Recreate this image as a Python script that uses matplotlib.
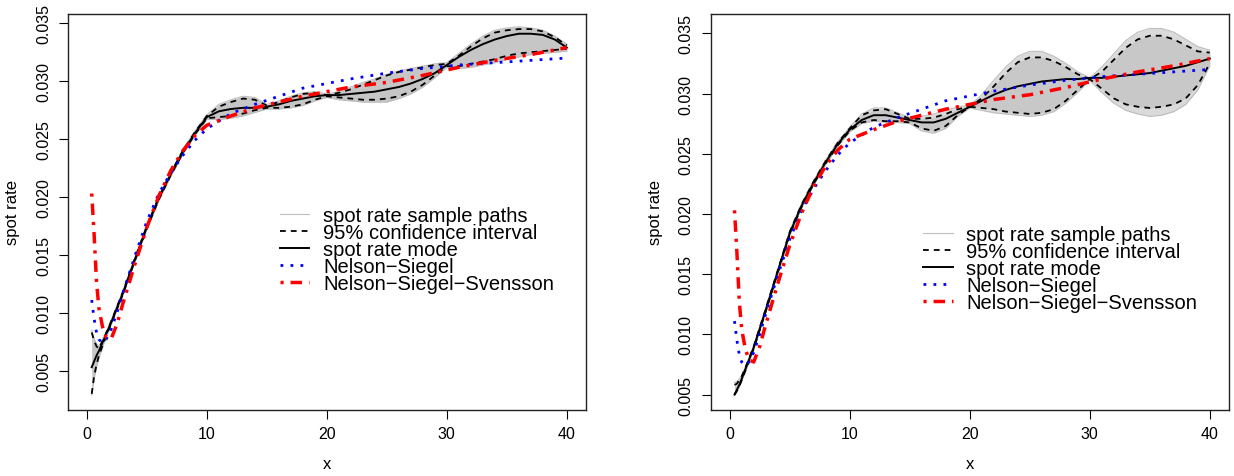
import matplotlib.pyplot as plt

plt.rcParams['font.family'] = ['Liberation Sans', 'DejaVu Sans']

# maturity grid for the sampled curves (mode, CI, path envelopes)
x = [0.4, 0.6, 0.8, 1, 1.5, 2, 3, 4, 5, 6, 7, 8, 9, 10, 11, 12, 13, 14, 15, 16,
     17, 18, 19, 20, 21, 22, 23, 24, 25, 26, 27, 28, 29, 30, 31, 32, 33, 34, 35,
     36, 37, 38, 39, 40]

# left panel
mode_l = [0.0053, 0.0058, 0.0063, 0.0067, 0.0079, 0.0091, 0.0117, 0.0146, 0.0174, 0.0199,
          0.0220, 0.0239, 0.0255, 0.0269, 0.0274, 0.0276, 0.0277, 0.0277, 0.0278, 0.0280,
          0.0283, 0.0285, 0.0287, 0.0288, 0.0288, 0.0289, 0.0290, 0.0291, 0.0293, 0.0295,
          0.0298, 0.0302, 0.0307, 0.0314, 0.0321, 0.0327, 0.0332, 0.0336, 0.0339, 0.0341,
          0.0341, 0.0340, 0.0336, 0.0329]
ci_hi_l = [0.0083, 0.0076, 0.0071, 0.0069, 0.0080, 0.0092, 0.0118, 0.0147, 0.0175, 0.0200,
           0.0221, 0.0240, 0.0256, 0.0270, 0.0278, 0.0282, 0.0285, 0.0284, 0.0279, 0.0282,
           0.0286, 0.0289, 0.0290, 0.0288, 0.0290, 0.0293, 0.0297, 0.0301, 0.0305, 0.0308,
           0.0310, 0.0312, 0.0314, 0.0315, 0.0322, 0.0330, 0.0337, 0.0342, 0.0344, 0.0345,
           0.0345, 0.0343, 0.0338, 0.0331]
ci_lo_l = [0.0030, 0.0045, 0.0055, 0.0063, 0.0077, 0.0090, 0.0116, 0.0145, 0.0173, 0.0198,
           0.0219, 0.0238, 0.0254, 0.0268, 0.0269, 0.0270, 0.0272, 0.0275, 0.0277, 0.0277,
           0.0278, 0.0280, 0.0284, 0.0287, 0.0286, 0.0285, 0.0284, 0.0284, 0.0285, 0.0287,
           0.0291, 0.0297, 0.0305, 0.0313, 0.0313, 0.0315, 0.0317, 0.0319, 0.0322, 0.0324,
           0.0325, 0.0326, 0.0327, 0.0328]
path_hi_l = [0.0085, 0.0078, 0.0073, 0.0071, 0.0081, 0.0093, 0.0119, 0.0148, 0.0176, 0.0201,
             0.0222, 0.0241, 0.0257, 0.0271, 0.0280, 0.0284, 0.0287, 0.0286, 0.0280, 0.0283,
             0.0287, 0.0290, 0.0291, 0.0289, 0.0291, 0.0295, 0.0299, 0.0302, 0.0306, 0.0309,
             0.0311, 0.0313, 0.0315, 0.0316, 0.0324, 0.0332, 0.0339, 0.0344, 0.0346, 0.0347,
             0.0346, 0.0344, 0.0339, 0.0332]
path_lo_l = [0.0029, 0.0043, 0.0053, 0.0061, 0.0076, 0.0089, 0.0115, 0.0144, 0.0172, 0.0197,
             0.0218, 0.0237, 0.0253, 0.0267, 0.0267, 0.0268, 0.0270, 0.0273, 0.0276, 0.0276,
             0.0277, 0.0279, 0.0283, 0.0286, 0.0284, 0.0283, 0.0282, 0.0282, 0.0282, 0.0285,
             0.0289, 0.0295, 0.0303, 0.0312, 0.0311, 0.0312, 0.0314, 0.0316, 0.0319, 0.0321,
             0.0323, 0.0324, 0.0325, 0.0326]

# right panel
mode_r = [0.0050, 0.0054, 0.0058, 0.0063, 0.0076, 0.0089, 0.0120, 0.0152, 0.0184, 0.0207,
          0.0226, 0.0243, 0.0258, 0.0270, 0.0278, 0.0282, 0.0282, 0.0280, 0.0278, 0.0276,
          0.0276, 0.0279, 0.0284, 0.0289, 0.0294, 0.0299, 0.0303, 0.0306, 0.0308, 0.0310,
          0.0311, 0.0312, 0.0312, 0.0313, 0.0313, 0.0314, 0.0315, 0.0316, 0.0317, 0.0319,
          0.0321, 0.0323, 0.0326, 0.0329]
ci_hi_r = [0.0058, 0.0059, 0.0062, 0.0065, 0.0077, 0.0090, 0.0121, 0.0153, 0.0185, 0.0208,
           0.0227, 0.0244, 0.0259, 0.0271, 0.0282, 0.0286, 0.0287, 0.0283, 0.0279, 0.0279,
           0.0280, 0.0283, 0.0287, 0.0289, 0.0296, 0.0306, 0.0317, 0.0326, 0.0330, 0.0330,
           0.0327, 0.0322, 0.0316, 0.0312, 0.0318, 0.0328, 0.0338, 0.0345, 0.0348, 0.0348,
           0.0345, 0.0340, 0.0335, 0.0334]
ci_lo_r = [0.0050, 0.0053, 0.0057, 0.0062, 0.0075, 0.0088, 0.0119, 0.0151, 0.0183, 0.0206,
           0.0225, 0.0242, 0.0257, 0.0269, 0.0276, 0.0278, 0.0277, 0.0277, 0.0276, 0.0271,
           0.0269, 0.0273, 0.0282, 0.0289, 0.0288, 0.0287, 0.0285, 0.0284, 0.0283, 0.0284,
           0.0287, 0.0294, 0.0303, 0.0312, 0.0304, 0.0296, 0.0291, 0.0289, 0.0288, 0.0289,
           0.0291, 0.0296, 0.0307, 0.0325]
path_hi_r = [0.0060, 0.0061, 0.0063, 0.0066, 0.0078, 0.0091, 0.0122, 0.0154, 0.0186, 0.0209,
             0.0228, 0.0245, 0.0260, 0.0272, 0.0283, 0.0288, 0.0288, 0.0284, 0.0280, 0.0281,
             0.0283, 0.0286, 0.0289, 0.0290, 0.0299, 0.0311, 0.0322, 0.0331, 0.0335, 0.0335,
             0.0331, 0.0325, 0.0318, 0.0313, 0.0322, 0.0333, 0.0344, 0.0351, 0.0354, 0.0354,
             0.0351, 0.0345, 0.0339, 0.0336]
path_lo_r = [0.0049, 0.0052, 0.0056, 0.0061, 0.0074, 0.0087, 0.0118, 0.0150, 0.0182, 0.0205,
             0.0224, 0.0241, 0.0256, 0.0268, 0.0275, 0.0277, 0.0276, 0.0276, 0.0275, 0.0269,
             0.0267, 0.0271, 0.0281, 0.0288, 0.0286, 0.0284, 0.0283, 0.0282, 0.0281, 0.0282,
             0.0285, 0.0292, 0.0301, 0.0311, 0.0301, 0.0292, 0.0286, 0.0283, 0.0281, 0.0282,
             0.0285, 0.0291, 0.0303, 0.0323]

# parametric fits (same in both panels)
x_fit = [0.4, 0.6, 0.8, 1.0, 1.3, 1.6, 2.0, 2.5, 3, 3.5, 4, 5, 6, 7, 8, 9, 10, 12, 14,
         16, 18, 20, 22, 25, 28, 31, 34, 37, 40]
ns = [0.0111, 0.0095, 0.0083, 0.0077, 0.0074, 0.0077, 0.0085, 0.0100, 0.0117, 0.0133,
      0.0149, 0.0179, 0.0203, 0.0221, 0.0236, 0.0249, 0.0259, 0.0272, 0.0280, 0.0287,
      0.0294, 0.0298, 0.0302, 0.0307, 0.0311, 0.0314, 0.0316, 0.0318, 0.0320]
nss = [0.0203, 0.0168, 0.0127, 0.0104, 0.0088, 0.0079, 0.0077, 0.0090, 0.0108, 0.0125,
       0.0142, 0.0174, 0.0201, 0.0223, 0.0240, 0.0253, 0.0262, 0.0270, 0.0277, 0.0282,
       0.0287, 0.0291, 0.0295, 0.0299, 0.0305, 0.0312, 0.0318, 0.0323, 0.0329]

yticks = [0.005, 0.010, 0.015, 0.020, 0.025, 0.030, 0.035]
xticks = [0, 10, 20, 30, 40]
labels = ['spot rate sample paths', '95% confidence interval', 'spot rate mode',
          'Nelson\u2212Siegel', 'Nelson\u2212Siegel\u2212Svensson']


def panel(ax, mode, ci_hi, ci_lo, p_hi, p_lo, ylim, leg_anchor, sparse):
    # sample paths: envelope band (denser inside the CI on the right panel)
    if sparse:
        ax.fill_between(x, p_lo, p_hi, color='#dadada', lw=0)
        ax.fill_between(x, ci_lo, ci_hi, color='#c8c8c8', lw=0)
    else:
        ax.fill_between(x, p_lo, p_hi, color='#c6c6c6', lw=0)
    ax.plot(x, p_hi, color='#bebebe', lw=0.8, label=labels[0])
    ax.plot(x, p_lo, color='#bebebe', lw=0.8)
    ax.plot(x, ci_hi, color='black', lw=1.3, dashes=(3.2, 2.8), label=labels[1])
    ax.plot(x, ci_lo, color='black', lw=1.3, dashes=(3.2, 2.8))
    ax.plot(x, mode, color='black', lw=1.4, label=labels[2])
    ax.plot(x_fit, ns, color='blue', lw=2, dashes=(1, 2.6), label=labels[3])
    ax.plot(x_fit, nss, color='red', lw=2.5, dashes=(0.9, 2.0, 3.3, 2.0), label=labels[4])

    ax.set_xlim(-1.6, 41.6)
    ax.set_ylim(*ylim)
    ax.set_xticks(xticks)
    ax.set_xticklabels([str(t) for t in xticks])
    ax.set_yticks(yticks)
    ax.set_yticklabels(['%.3f' % t for t in yticks], rotation=90, va='center')
    ax.tick_params(direction='out', length=6.5, width=0.8, labelsize=11.5, pad=5.5)
    for s in ax.spines.values():
        s.set_linewidth(1.0)
        s.set_color('#222222')
    ax.text(-0.107, 0.5, 'spot rate', rotation=90, ha='center', va='center',
            fontsize=12, transform=ax.transAxes)
    ax.text(0.5, -0.135, 'x', ha='center', va='center', fontsize=12,
            transform=ax.transAxes)
    ax.legend(loc='upper left', bbox_to_anchor=leg_anchor, frameon=False,
              fontsize=14.5, handlelength=1.45, handletextpad=0.68,
              labelspacing=-0.1, borderpad=0, borderaxespad=0)


fig = plt.figure(figsize=(12.34, 4.77), dpi=100)
ax_l = fig.add_axes([67.7 / 1234, 66.3 / 477, 518.3 / 1234, 396 / 477])
ax_r = fig.add_axes([710.5 / 1234, 66.3 / 477, 518.5 / 1234, 396 / 477])

panel(ax_l, mode_l, ci_hi_l, ci_lo_l, path_hi_l, path_lo_l,
      (0.00163, 0.03583), (0.4096, 0.515), False)
panel(ax_r, mode_r, ci_hi_r, ci_lo_r, path_hi_r, path_lo_r,
      (0.00374, 0.03663), (0.4106, 0.466), True)

fig.savefig('out.png', dpi=100)
